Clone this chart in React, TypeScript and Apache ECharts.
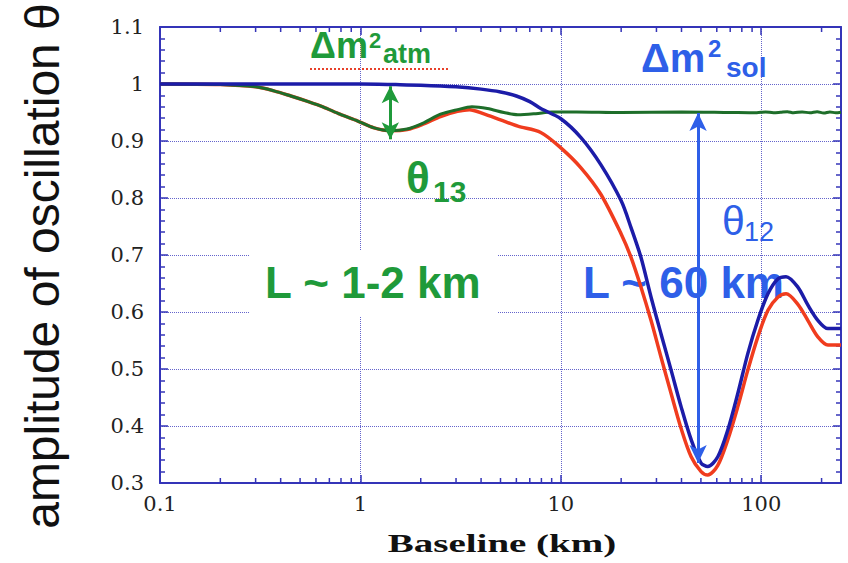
import React, { useEffect, useRef } from "react";
import * as echarts from "echarts";

// ---- data ----
const blueX = [0.1, 0.5, 1, 1.5, 2, 3, 4, 5, 6, 7, 7.94, 10, 12.6, 15.8, 20, 22.4, 25.1, 28.2, 31.6, 35.5, 39.8, 44.7, 50.1, 54.1, 60.7, 68.1, 76.4, 85.7, 96.1, 108, 121, 133, 152, 171, 192, 215, 250];
const blueY = [1.0, 1.0, 1.0, 0.999, 0.998, 0.995, 0.991, 0.986, 0.979, 0.969, 0.957, 0.939, 0.906, 0.859, 0.795, 0.748, 0.696, 0.626, 0.562, 0.498, 0.434, 0.376, 0.335, 0.329, 0.346, 0.393, 0.457, 0.527, 0.585, 0.632, 0.658, 0.662, 0.644, 0.612, 0.585, 0.571, 0.571];

const redX = [0.1, 0.2, 0.3, 0.37, 0.45, 0.54, 0.65, 0.79, 0.97, 1.17, 1.41, 1.71, 2.07, 2.51, 3.05, 3.5, 4.1, 5, 6.1, 7.94, 10, 12.6, 15.8, 20, 22.4, 25.1, 28.2, 31.6, 35.5, 39.8, 44.7, 50.1, 54.1, 60.7, 68.1, 76.4, 85.7, 96.1, 108, 121, 133, 152, 171, 192, 215, 250];
const redY = [1, 0.999, 0.995, 0.988, 0.979, 0.97, 0.96, 0.947, 0.935, 0.923, 0.918, 0.92, 0.93, 0.943, 0.952, 0.955, 0.948, 0.937, 0.926, 0.915, 0.888, 0.853, 0.807, 0.737, 0.696, 0.644, 0.585, 0.521, 0.457, 0.396, 0.346, 0.32, 0.314, 0.331, 0.376, 0.434, 0.498, 0.556, 0.603, 0.626, 0.632, 0.614, 0.585, 0.556, 0.542, 0.542];

const greenX = [0.1, 0.2, 0.3, 0.37, 0.45, 0.54, 0.65, 0.79, 0.97, 1.17, 1.41, 1.71, 2.07, 2.51, 3.05, 3.6, 4.3, 5.2, 6.1, 7.5, 9, 12, 20, 40, 70, 95, 105, 115, 125, 135, 145, 160, 175, 190, 205, 220, 235, 250];
const greenY = [1, 0.999, 0.995, 0.988, 0.979, 0.97, 0.96, 0.947, 0.935, 0.923, 0.918, 0.921, 0.932, 0.947, 0.955, 0.96, 0.957, 0.95, 0.946, 0.948, 0.951, 0.951, 0.95, 0.951, 0.95, 0.9495, 0.951, 0.9495, 0.9505, 0.9515, 0.9495, 0.951, 0.9495, 0.9515, 0.949, 0.951, 0.9495, 0.9505];

const xTickValues = [0.1, 1, 10, 100];
const xTickLabels = ["0.1", "1", "10", "100"];
const xMinorTicks = [0.2, 0.3, 0.4, 0.5, 0.6, 0.7, 0.8, 0.9, 2, 3, 4, 5, 6, 7, 8, 9, 20, 30, 40, 50, 60, 70, 80, 90, 200];
const yTickValues = [0.3, 0.4, 0.5, 0.6, 0.7, 0.8, 0.9, 1.0, 1.1];
const yTickLabels = ["0.3", "0.4", "0.5", "0.6", "0.7", "0.8", "0.9", "1", "1.1"];

// arrows (data coords)
const atmArrow = [[1.41, 0.996], [1.41, 0.903]];
const solArrow = [[48.4, 0.949], [48.4, 0.335]];

const AXIS = "#3434b8";
const GRID = "#6464cc";
const BLUE_LINE = "#1c1ca8";
const RED_LINE = "#f03c1e";
const GREEN_LINE = "#1e6e2a";
const GREEN_TEXT = "#1f9a3a";
const BLUE_TEXT = "#2e5fe8";

const zip = (xs: number[], ys: number[]) => xs.map((x, i) => [x, ys[i]]);

function labelFor(values: number[], labels: string[], v: number) {
  for (let i = 0; i < values.length; i++) {
    if (Math.abs(values[i] - v) < 1e-6 * Math.max(1, values[i])) return labels[i];
  }
  return "";
}

const sans = "'Liberation Sans', Arial, sans-serif";

export default function App() {
  const ref = useRef<HTMLDivElement>(null);
  useEffect(() => {
    if (!ref.current) return;
    const chart = echarts.init(ref.current, undefined, { renderer: "svg" });
    const txt = (
      text: string,
      x: number,
      baseline: number,
      size: number,
      color: string,
      weight: string,
      z = 10
    ) => ({
      type: "text",
      x,
      y: baseline - size * 0.35,
      z,
      style: {
        text,
        fill: color,
        font: `${weight} ${size}px ${sans}`,
        align: "left",
        verticalAlign: "middle",
      },
    });

    const baseX = { type: "log", logBase: 10, min: 0.1, max: 250, gridIndex: 0 };
    const baseY = { type: "value", min: 0.3, max: 1.1, interval: 0.1, gridIndex: 0 };
    const line = { show: true, onZero: false, lineStyle: { color: AXIS, width: 2 } };
    const tick = { show: true, inside: true, length: 8, lineStyle: { color: AXIS, width: 1.5 } };
    const minor = { show: true, splitNumber: 5, length: 5, lineStyle: { color: AXIS, width: 1.5 } };

    const option: any = {
      animation: false,
      backgroundColor: "#ffffff",
      grid: { left: 160, right: 7, top: 27, bottom: 80 },
      xAxis: [
        {
          ...baseX,
          position: "bottom",
          axisLine: line,
          axisTick: tick,
          axisLabel: {
            margin: 10,
            color: "#222",
            fontFamily: "'DejaVu Serif', serif",
            fontSize: 21,
            formatter: (v: number) => labelFor(xTickValues, xTickLabels, v),
          },
          splitLine: { show: true, lineStyle: { color: GRID, type: "dotted", width: 1 } },
        },
        {
          ...baseX,
          position: "top",
          axisLine: line,
          axisTick: tick,
          axisLabel: { show: false },
          splitLine: { show: false },
        },
      ],
      yAxis: [
        {
          ...baseY,
          position: "left",
          axisLine: line,
          axisTick: tick,
          minorTick: minor,
          axisLabel: {
            margin: 16,
            color: "#222",
            fontFamily: "'DejaVu Serif', serif",
            fontSize: 21,
            formatter: (v: number) => labelFor(yTickValues, yTickLabels, v),
          },
          splitLine: { show: true, lineStyle: { color: GRID, type: "dotted", width: 1 } },
        },
        {
          ...baseY,
          position: "right",
          axisLine: line,
          axisTick: tick,
          minorTick: minor,
          axisLabel: { show: false },
          splitLine: { show: false },
        },
      ],
      series: [
        {
          type: "custom",
          silent: true,
          xAxisIndex: 0,
          yAxisIndex: 0,
          data: xMinorTicks.map((v) => [v, 0.3]),
          renderItem: (params: any, api: any) => {
            const xv = api.value(0);
            const pb = api.coord([xv, 0.3]);
            const pt = api.coord([xv, 1.1]);
            const st = { stroke: AXIS, lineWidth: 1.5 };
            return {
              type: "group",
              children: [
                { type: "line", shape: { x1: pb[0], y1: pb[1], x2: pb[0], y2: pb[1] - 5 }, style: st },
                { type: "line", shape: { x1: pt[0], y1: pt[1], x2: pt[0], y2: pt[1] + 5 }, style: st },
              ],
            };
          },
        },
        {
          name: "red",
          type: "line",
          data: zip(redX, redY),
          showSymbol: false,
          symbol: "none",
          smooth: 0.3,
          lineStyle: { color: RED_LINE, width: 3.5 },
          silent: true,
        },
        {
          name: "green",
          type: "line",
          data: zip(greenX, greenY),
          showSymbol: false,
          symbol: "none",
          smooth: 0.3,
          lineStyle: { color: GREEN_LINE, width: 3 },
          silent: true,
          markLine: {
            silent: true,
            symbol: ["arrow", "arrow"],
            symbolSize: [13, 17],
            label: { show: false },
            lineStyle: { color: GREEN_TEXT, width: 3, type: "solid" },
            data: [[{ coord: atmArrow[0] }, { coord: atmArrow[1] }]],
          },
        },
        {
          name: "blue",
          type: "line",
          data: zip(blueX, blueY),
          showSymbol: false,
          symbol: "none",
          smooth: 0.3,
          lineStyle: { color: BLUE_LINE, width: 3.5 },
          silent: true,
          markLine: {
            silent: true,
            symbol: ["arrow", "arrow"],
            symbolSize: [13, 18],
            label: { show: false },
            lineStyle: { color: BLUE_TEXT, width: 3, type: "solid" },
            data: [[{ coord: solArrow[0] }, { coord: solArrow[1] }]],
          },
        },
      ],
      graphic: [
        // white box behind "L ~ 1-2 km"
        { type: "rect", z: 1, shape: { x: 250, y: 251, width: 247, height: 65 }, style: { fill: "#ffffff" } },
        txt("L ~ 1-2 km", 265, 298, 44, GREEN_TEXT, "bold", 1),
        txt("L ~ 60 km", 583, 298, 44, BLUE_TEXT, "bold", 1),
        // Δm²atm
        txt("Δm", 310, 58, 36, GREEN_TEXT, "bold"),
        txt("2", 369, 48, 22, GREEN_TEXT, "bold"),
        txt("atm", 383, 63, 27, GREEN_TEXT, "bold"),
        {
          type: "line",
          z: 10,
          shape: { x1: 310, y1: 69, x2: 448, y2: 69 },
          style: { stroke: "#e8402a", lineWidth: 2, lineDash: [2, 2] },
        },
        // θ13
        txt("θ", 406, 193, 44, GREEN_TEXT, "bold"),
        txt("13", 433, 202, 30, GREEN_TEXT, "bold"),
        // Δm²sol
        txt("Δm", 641, 72, 40, BLUE_TEXT, "bold"),
        txt("2", 708, 57, 24, BLUE_TEXT, "bold"),
        txt("sol", 726, 77, 28, BLUE_TEXT, "bold"),
        // θ12
        txt("θ", 722, 235, 41, BLUE_TEXT, "normal"),
        txt("12", 744, 241, 27, BLUE_TEXT, "normal"),
        // axis titles
        {
          type: "text",
          x: 42,
          y: 266,
          rotation: Math.PI / 2,
          z: 10,
          style: {
            text: "amplitude of oscillation θ",
            fill: "#111",
            font: `normal 48px ${sans}`,
            align: "center",
            verticalAlign: "middle",
          },
        },
        {
          type: "text",
          x: 502,
          y: 543,
          scaleX: 1.5,
          z: 10,
          style: {
            text: "Baseline (km)",
            fill: "#111",
            font: "bold 26px 'Liberation Serif', 'Times New Roman', serif",
            align: "center",
            verticalAlign: "middle",
          },
        },
      ],
    };
    chart.setOption(option);
    return () => chart.dispose();
  }, []);
  return (
    <div
      ref={ref}
      style={{ position: "fixed", left: 0, top: 0, width: 848, height: 563, background: "#fff" }}
    />
  );
}
